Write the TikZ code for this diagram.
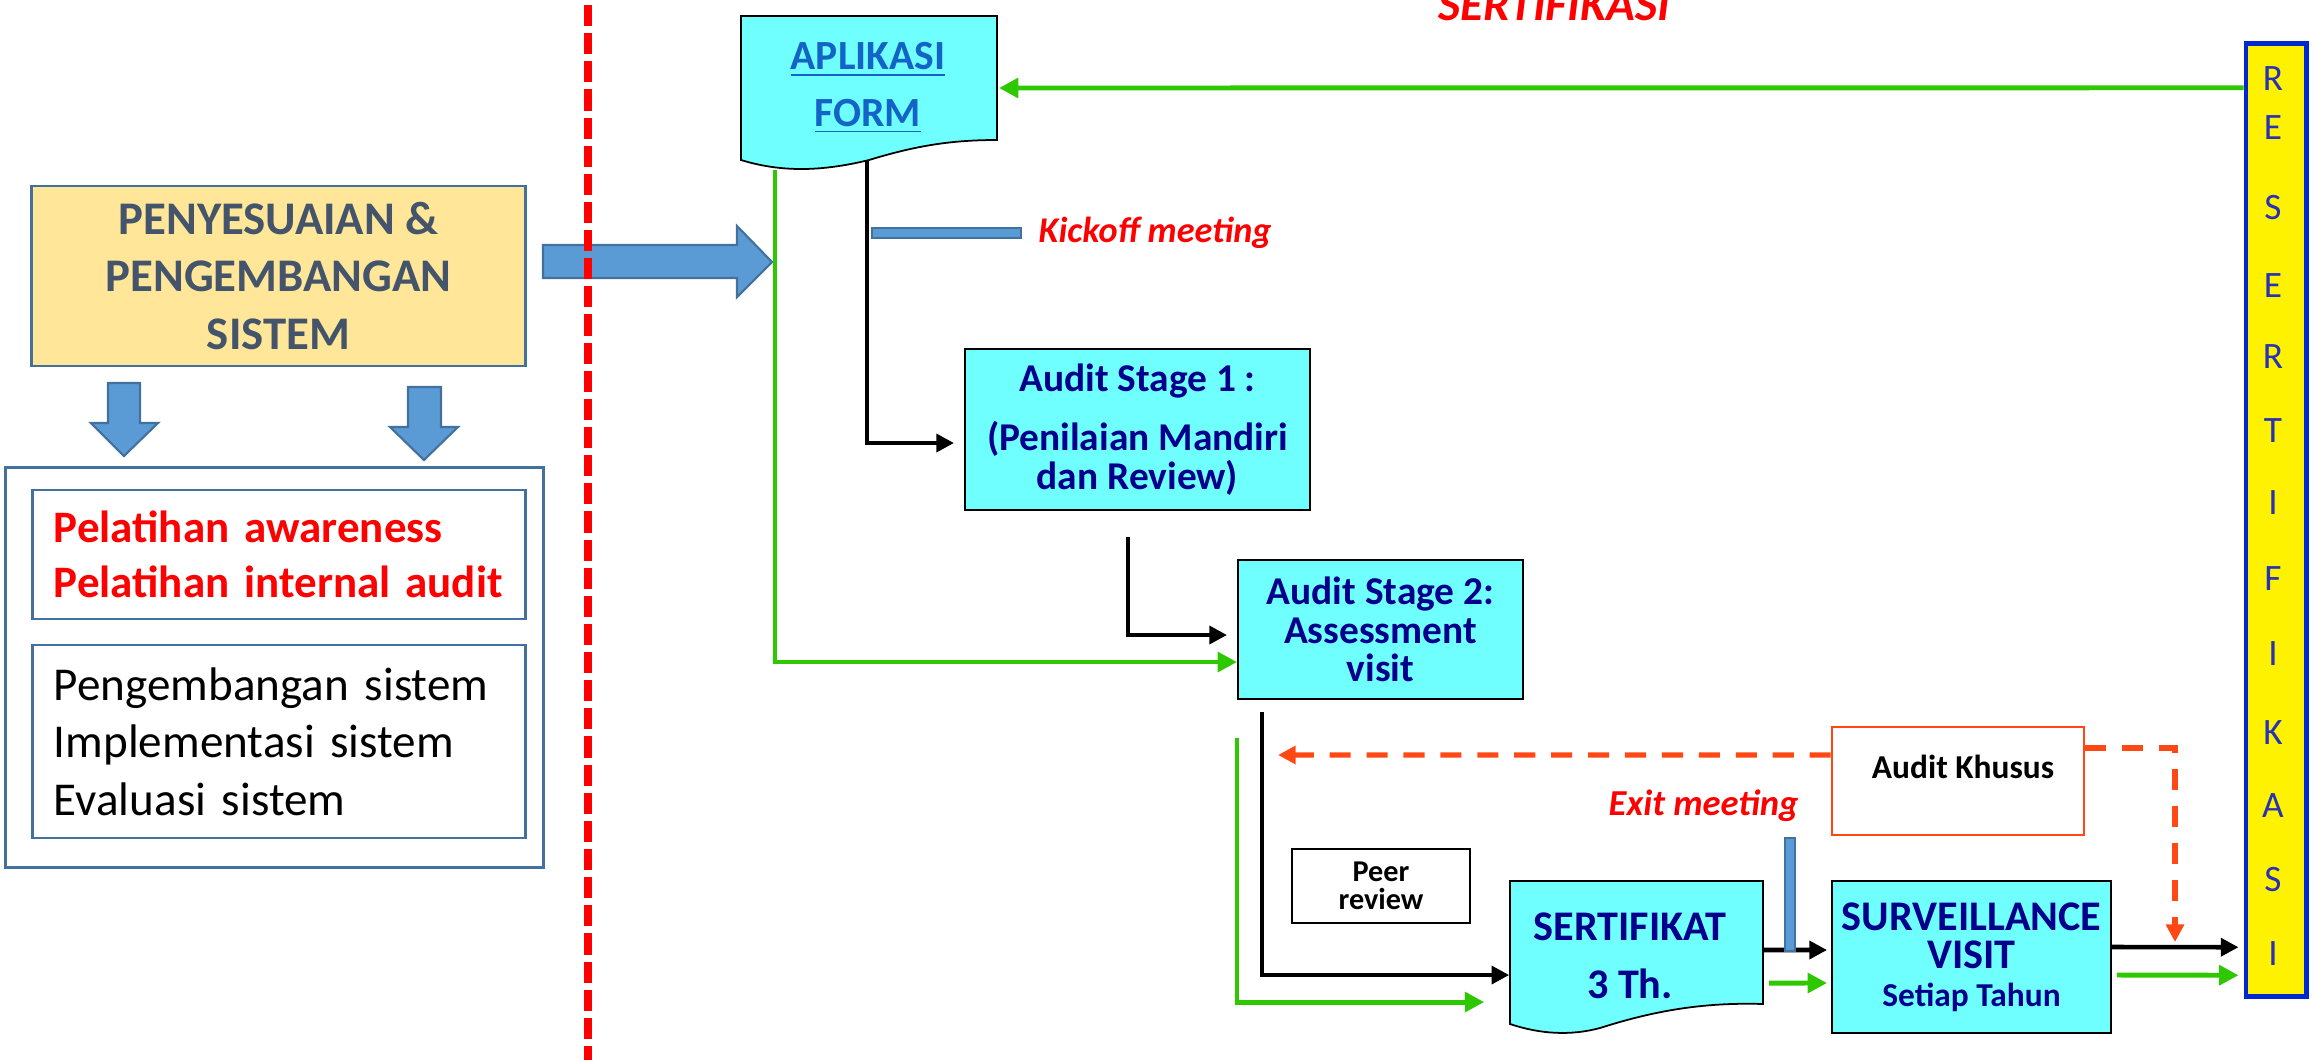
\documentclass[tikz,border=0pt]{standalone}
\usepackage{fontspec}
\setmainfont{Carlito}
\usetikzlibrary{arrows.meta}
\newcommand{\myfs}[2]{\fontsize{#1}{#2}\selectfont}
\definecolor{cyanfill}{RGB}{112,255,255}
\definecolor{navy}{RGB}{0,0,140}
\definecolor{grn}{RGB}{45,200,0}
\definecolor{yfill}{RGB}{255,230,153}
\definecolor{bborder}{RGB}{65,113,156}
\definecolor{barrow}{RGB}{91,155,213}
\definecolor{slate}{RGB}{68,84,106}
\definecolor{orng}{RGB}{255,72,20}
\definecolor{rblue}{RGB}{0,40,210}
\definecolor{rletter}{RGB}{40,50,180}
\definecolor{linkblue}{RGB}{20,100,200}
\begin{document}
\begin{tikzpicture}[x=0.01cm,y=-0.01cm,
  cbox/.style={draw=black, line width=0.5pt, fill=cyanfill, text=navy, align=center, inner sep=0pt},
  blkarrow/.style={draw=black, line width=1.3pt, -{Triangle[length=5pt,width=5pt]}},
  grnarrow/.style={draw=grn, line width=1.4pt, -{Triangle[length=5.5pt,width=5.5pt]}},
  orgdash/.style={draw=orng, line width=1.5pt, dash pattern=on 6pt off 4.5pt, -{Triangle[length=5pt,width=5pt]}},
  bluefat/.style={fill=barrow, draw=bborder, line width=0.6pt},
  lbox/.style={draw=bborder, line width=0.8pt, inner sep=0pt}]
\useasboundingbox (0,0) rectangle (2318,1060);

% title (cut at top)
\node[text=red, font=\myfs{13.5}{16}\bfseries\itshape, anchor=base west, inner sep=0] (title) at (1438,20) {SERTIFIKASI};

% left part
\node[lbox, fill=yfill, minimum width=4.93cm, minimum height=1.8cm, text=slate, font=\myfs{13.3}{16.4}\bfseries, align=center] (penyes) at (278.5,276) {PENYESUAIAN \&\\PENGEMBANGAN\\SISTEM};
\draw[bluefat] (108,383) -- (140,383) -- (140,423) -- (158,423) -- (124,456) -- (91,423) -- (108,423) -- cycle;
\draw[bluefat] (408,387) -- (441,387) -- (441,427) -- (458,427) -- (424,460) -- (390,427) -- (408,427) -- cycle;
\node[lbox, minimum width=5.37cm, minimum height=3.99cm] (outer) at (274.5,667.5) {};
\node[lbox, minimum width=4.92cm, minimum height=1.29cm, text width=4.5cm, inner xsep=0.21cm, align=left, text=red, font=\myfs{12.8}{15.5}\bfseries] (inner1) at (279,554.5) {Pelatihan awareness\\Pelatihan internal audit};
\node[lbox, minimum width=4.92cm, minimum height=1.93cm, text width=4.5cm, inner xsep=0.21cm, align=left, text=black, font=\myfs{13.4}{16.4}] (inner2) at (279,741.5) {Pengembangan sistem\\Implementasi sistem\\Evaluasi sistem};

% fat arrow and divider
\draw[bluefat] (543,245) -- (737,245) -- (737,226) -- (772,262) -- (737,297) -- (737,278) -- (543,278) -- cycle;
\draw[red, line width=2pt, dash pattern=on 6pt off 2pt] (588,5) -- (588,1060);

% APLIKASI FORM document
\draw[fill=cyanfill, line width=0.5pt] (741,16) -- (997,16) -- (997,140) .. controls (950,140) and (915,146) .. (869,160) .. controls (820,172) and (780,172) .. (741,160) -- cycle;
\node[inner sep=0, minimum width=2.56cm, minimum height=1.24cm] (apl) at (869,78) {};
\node[text=linkblue, font=\myfs{11.8}{16.1}\bfseries, align=center] (apltext) at (868,88) {\underline{APLIKASI}\\\underline{FORM}};
\coordinate (aplbot) at (867,161);
\coordinate (aplright) at (999,88);

% kickoff
\node[bluefat, minimum width=1.49cm, minimum height=0.1cm, inner sep=0] (kickbar) at (946.5,233) {};
\node[text=red, font=\myfs{10.3}{12}\bfseries\itshape, anchor=base west, inner sep=0] (kick) at (1038,242) {Kickoff meeting};

% stages
\node[cbox, minimum width=3.45cm, minimum height=1.61cm, font=\myfs{11.2}{11}\bfseries] (stage1) at (1137.5,429.5) {Audit Stage 1 :\\[5.7pt](Penilaian Mandiri\\dan Review)};
\node[cbox, minimum width=2.85cm, minimum height=1.39cm, font=\myfs{11.2}{11}\bfseries] (stage2) at (1380.5,629.5) {Audit Stage 2:\\Assessment\\visit};

\coordinate (s1out) at (1128,537);
\coordinate (s2out) at (1262,712);
\coordinate (grtop) at (775,170);
\coordinate (grmid) at (1237,738);
\coordinate (dtip) at (1278,755);
\coordinate (dtip2) at (2175,942);

% audit khusus
\node[draw=orng, line width=0.7pt, fill=white, minimum width=2.52cm, minimum height=1.08cm, inner sep=0] (khusus) at (1958,781) {};
\node[font=\myfs{9.5}{11}\bfseries, inner sep=0] (khususlbl) at (1963,767) {Audit Khusus};

% peer review
\node[draw=black, line width=0.8pt, minimum width=1.78cm, minimum height=0.74cm, align=center, inner sep=0, font=\myfs{8.6}{7.9}\bfseries] (peer) at (1381,886) {Peer\\review};

% sertifikat document
\draw[fill=cyanfill, line width=0.5pt] (1510,881) -- (1763,881) -- (1763,1004) .. controls (1700,1002) and (1650,1012) .. (1600,1028) .. controls (1570,1036) and (1540,1034) .. (1510,1024) -- cycle;
\node[inner sep=0, minimum width=2.53cm, minimum height=1.23cm] (sert) at (1636.5,942.5) {};
\node[text=navy, font=\myfs{12}{16.5}\bfseries, align=center, inner sep=0] (serttxt) at (1630,956) {SERTIFIKAT\\3 Th.};

% surveillance
\node[cbox, minimum width=2.79cm, minimum height=1.52cm, font=\myfs{12}{10.8}\bfseries] (surv) at (1971.5,957) {SURVEILLANCE\\VISIT\\{\myfs{9.5}{10.8}Setiap Tahun}};

% resertifikasi column
\node[draw=rblue, line width=1.4pt, fill=yellow, minimum width=0.6cm, minimum height=9.52cm, inner sep=0] (resert) at (2276,520) {};
\foreach \ch/\yy [count=\i] in {R/79,E/128,S/208,E/286,R/357,T/431,I/503,F/579,I/654,K/733,A/806,S/880,I/954}
  \node[text=rletter, font=\myfs{10.6}{12}, inner sep=0] (rl\i) at (2273,\yy) {\ch};

% connectors
\draw[grnarrow] ([yshift=4.32cm]resert.west) -- (aplright);
\draw[grnarrow] (grtop) |- ([yshift=-0.325cm]stage2.west);
\draw[blkarrow, shorten >=0.1cm] (aplbot) |- ([yshift=-0.135cm]stage1.west);
\draw[blkarrow, shorten >=0.1cm] (s1out) |- ([yshift=-0.055cm]stage2.west);
\draw[blkarrow] (s2out) |- ([yshift=-0.325cm]sert.west);
\draw[grnarrow, shorten >=0.25cm] (grmid) |- ([yshift=-0.595cm]sert.west);
\draw[blkarrow, shorten >=0.04cm] ([yshift=-0.075cm]sert.east) -- ([yshift=0.07cm]surv.west);
\draw[grnarrow, shorten >=0.04cm] ([xshift=0.05cm,yshift=-0.405cm]sert.east) -- ([yshift=-0.26cm]surv.west);
\draw[blkarrow, shorten >=0.05cm] ([yshift=0.1cm]surv.east) -- ([yshift=-4.27cm]resert.west);
\draw[grnarrow, shorten >=0.05cm] ([xshift=0.05cm,yshift=-0.18cm]surv.east) -- ([yshift=-4.55cm]resert.west);
\draw[orgdash] ([yshift=0.26cm]khusus.west) -- (dtip);
\draw[orgdash] ([yshift=0.33cm]khusus.east) -| (dtip2);

% exit meeting
\node[bluefat, minimum width=0.1cm, minimum height=1.13cm, inner sep=0] (exitbar) at (1790,894.5) {};
\node[text=red, font=\myfs{10.4}{12}\bfseries\itshape, anchor=base west, inner sep=0] (exit) at (1608,815) {Exit meeting};
\end{tikzpicture}
\end{document}
